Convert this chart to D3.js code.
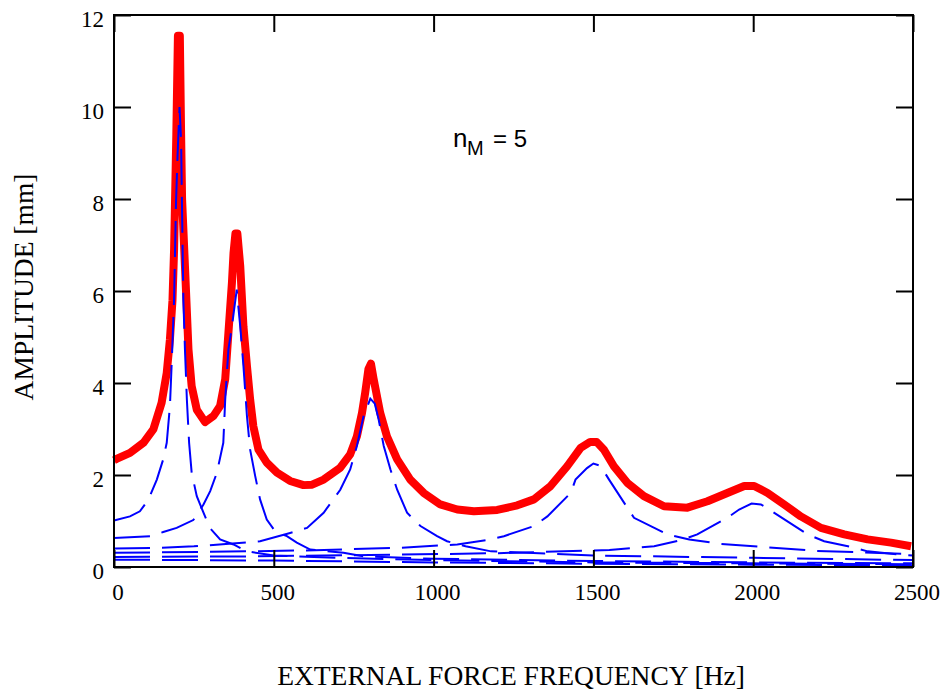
<!DOCTYPE html>
<html>
<head>
<meta charset="utf-8">
<script src="https://cdn.jsdelivr.net/npm/d3@7"></script>
<style>
  body { margin: 0; background: #fff; }
  .tick-label { font-family: "Liberation Serif", "Times New Roman", serif; font-size: 23px; fill: #000; }
  .axis-title { font-family: "Liberation Serif", "Times New Roman", serif; font-size: 27.5px; fill: #000; }
  .note { font-family: "Liberation Sans", Arial, sans-serif; fill: #000; }
</style>
</head>
<body>
<svg id="chart"></svg>
<script>
// SET DATA  [frequency Hz, amplitude mm]
const xTicks = [0, 500, 1000, 1500, 2000, 2500];
const yTicks = [0, 2, 4, 6, 8, 10, 12];

const totalResponse = [[0,2.32],[8,2.35],[50,2.48],[92,2.7],[123,2.99],[149,3.57],[165,4.22],[175,4.95],[183,5.8],[188,6.9],[195,9.4],[200,11.55],[206,11.55],[210,9.4],[213,8.0],[222,6.54],[233,4.73],[243,3.93],[259,3.42],[285,3.15],[311,3.28],[332,3.5],[348,4.08],[358,5.09],[369,6.18],[374,6.83],[380,7.25],[386,7.25],[395,6.54],[405,5.23],[416,4.37],[426,3.64],[436,3.06],[452,2.55],[478,2.27],[510,2.05],[551,1.87],[593,1.78],[620,1.79],[656,1.9],[708,2.16],[739,2.45],[760,2.84],[776,3.35],[786,3.79],[796,4.3],[804,4.42],[812,4.1],[833,3.35],[854,2.84],[886,2.34],[927,1.9],[969,1.61],[1021,1.36],[1074,1.25],[1126,1.21],[1199,1.24],[1262,1.34],[1314,1.47],[1366,1.76],[1418,2.19],[1460,2.59],[1490,2.72],[1510,2.72],[1533,2.55],[1564,2.19],[1606,1.83],[1658,1.54],[1721,1.32],[1794,1.29],[1857,1.43],[1919,1.61],[1972,1.76],[2003,1.76],[2045,1.61],[2097,1.36],[2149,1.1],[2212,0.85],[2285,0.71],[2358,0.6],[2431,0.53],[2494,0.45]];

const mode1 = [[0,1.01],[50,1.1],[81,1.21],[108,1.47],[134,1.9],[154,2.34],[165,2.7],[175,3.5],[181,4.51],[188,5.82],[194,7.92],[199,8.97],[205,10.0],[210,9.26],[212,8.2],[217,5.82],[222,4.73],[228,3.64],[235,2.7],[243,2.05],[259,1.54],[280,1.18],[301,0.84],[332,0.6],[374,0.49],[416,0.34],[500,0.25],[700,0.2],[1000,0.15],[1500,0.1],[2000,0.08],[2500,0.06]];

const mode2 = [[0,0.63],[113,0.67],[154,0.76],[196,0.85],[248,1.02],[280,1.36],[301,1.65],[322,2.05],[342,2.7],[348,3.64],[358,4.73],[369,5.23],[384,6.03],[395,5.23],[405,4.37],[416,3.28],[426,2.55],[442,1.97],[457,1.47],[478,1.03],[504,0.78],[541,0.67],[572,0.53],[614,0.38],[718,0.31],[781,0.23],[1000,0.18],[1500,0.13],[2000,0.1],[2500,0.08]];

const mode3 = [[0,0.4],[150,0.42],[250,0.45],[350,0.5],[457,0.56],[551,0.74],[604,0.85],[656,1.18],[708,1.68],[739,2.12],[760,2.63],[781,3.28],[802,3.66],[816,3.55],[828,3.21],[844,2.63],[865,2.12],[886,1.68],[917,1.18],[959,0.89],[1011,0.67],[1042,0.56],[1100,0.45],[1180,0.34],[1500,0.25],[2000,0.2],[2500,0.15]];

const mode4 = [[0,0.31],[300,0.33],[600,0.36],[900,0.42],[1074,0.49],[1178,0.6],[1220,0.67],[1314,0.89],[1356,1.1],[1429,1.61],[1444,1.9],[1480,2.15],[1500,2.25],[1522,2.2],[1549,1.9],[1606,1.29],[1627,1.07],[1731,0.71],[1800,0.6],[1900,0.5],[2200,0.35],[2500,0.28]];

const mode5 = [[0,0.22],[400,0.23],[800,0.26],[1200,0.3],[1550,0.37],[1690,0.45],[1773,0.58],[1825,0.71],[1919,1.07],[1956,1.25],[1995,1.38],[2024,1.36],[2034,1.32],[2170,0.71],[2222,0.56],[2316,0.42],[2358,0.34],[2462,0.27],[2500,0.25]];

const mode0 = [[0,0.16],[500,0.14],[1000,0.1],[1500,0.07],[2000,0.05],[2500,0.04]];

const modeCurves = [mode1, mode2, mode3, mode4, mode5, mode0];

// SET VARIABLES
const _width = 943;
const _height = 692;
const _plot = {left: 114, right: 913, top: 15, bottom: 567};
const _tickLen = 17;

const x = d3.scaleLinear().domain([0, 2500]).range([_plot.left, _plot.right]);
const y = d3.scaleLinear().domain([0, 12]).range([_plot.bottom, _plot.top]);

const line = d3.line()
               .x(d => x(d[0]))
               .y(d => y(d[1]));

let svg = d3.select('#chart')
            .attr('width', _width)
            .attr('height', _height);

// TOTAL RESPONSE
svg.append('path')
     .datum(totalResponse)
     .attr('d', line)
     .attr('fill', 'none')
     .attr('stroke', '#ff0000')
     .attr('stroke-width', 8)
     .attr('stroke-linejoin', 'round');

// MODE CURVES (dashed, drawn over the total)
svg.append('g')
     .attr('id', 'modes')
   .selectAll('path')
   .data(modeCurves)
     .enter()
   .append('path')
     .attr('d', line)
     .attr('fill', 'none')
     .attr('stroke', '#0000ff')
     .attr('stroke-width', 2)
     .attr('stroke-dasharray', '36,12');

// FRAME + INWARD TICKS
svg.append('g')
     .attr('transform', `translate(0, ${_plot.bottom})`)
     .call(d3.axisBottom(x).tickValues(xTicks).tickSize(-_tickLen).tickFormat(''))
     .call(g => g.select('.domain').remove());
svg.append('g')
     .attr('transform', `translate(0, ${_plot.top})`)
     .call(d3.axisTop(x).tickValues(xTicks).tickSize(-_tickLen).tickFormat(''))
     .call(g => g.select('.domain').remove());
svg.append('g')
     .attr('transform', `translate(${_plot.left}, 0)`)
     .call(d3.axisLeft(y).tickValues(yTicks).tickSize(-_tickLen).tickFormat(''))
     .call(g => g.select('.domain').remove());
svg.append('g')
     .attr('transform', `translate(${_plot.right}, 0)`)
     .call(d3.axisRight(y).tickValues(yTicks).tickSize(-_tickLen).tickFormat(''))
     .call(g => g.select('.domain').remove());
svg.selectAll('.tick line')
     .attr('stroke', '#000')
     .attr('stroke-width', 2);

svg.append('rect')
     .attr('x', _plot.left)
     .attr('y', _plot.top)
     .attr('width', _plot.right - _plot.left)
     .attr('height', _plot.bottom - _plot.top)
     .attr('fill', 'none')
     .attr('stroke', '#000')
     .attr('stroke-width', 2);

// TICK LABELS
svg.append('g')
   .selectAll('text')
   .data(xTicks)
     .enter()
   .append('text')
     .attr('class', 'tick-label')
     .attr('text-anchor', 'middle')
     .attr('x', d => x(d) + 4)
     .attr('y', 600)
     .text(d => d);
svg.append('g')
   .selectAll('text')
   .data(yTicks)
     .enter()
   .append('text')
     .attr('class', 'tick-label')
     .attr('text-anchor', 'end')
     .attr('x', 104)
     .attr('y', d => y(d) + 12)
     .text(d => d);

// AXIS TITLES
svg.append('text')
     .attr('class', 'axis-title')
     .attr('text-anchor', 'middle')
     .attr('x', 511)
     .attr('y', 685)
     .text('EXTERNAL FORCE FREQUENCY [Hz]');
svg.append('text')
     .attr('class', 'axis-title')
     .attr('text-anchor', 'middle')
     .attr('transform', 'translate(33, 287) rotate(-90)')
     .text('AMPLITUDE [mm]');

// ANNOTATION
let note = svg.append('g')
              .attr('class', 'note');
    note.append('text').attr('x', 453).attr('y', 147).style('font-size', '26px').text('n');
    note.append('text').attr('x', 467).attr('y', 155).style('font-size', '20px').text('M');
    note.append('text').attr('x', 493).attr('y', 147).style('font-size', '24px').text('= 5');
</script>
</body>
</html>
